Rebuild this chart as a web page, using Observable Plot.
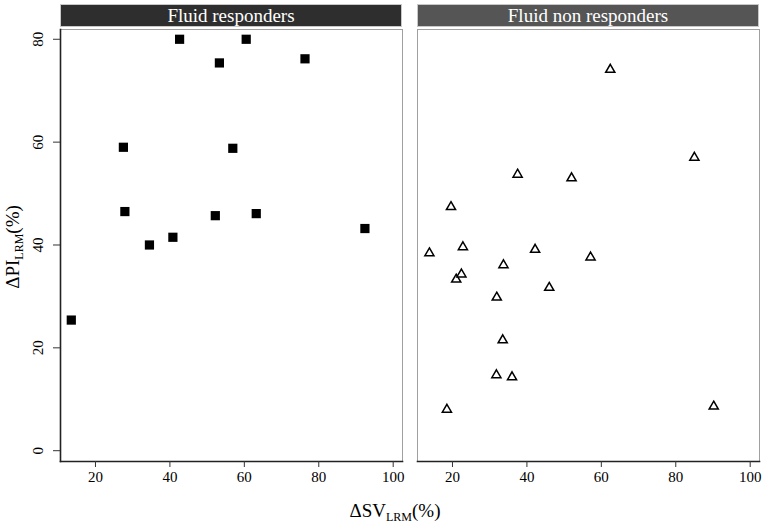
<!DOCTYPE html>
<html>
<head>
<meta charset="utf-8">
<script src="https://cdn.jsdelivr.net/npm/d3@7"></script>
<script src="https://cdn.jsdelivr.net/npm/@observablehq/plot@0.6"></script>
<style>
  html, body { margin: 0; padding: 0; background: #fff; }
  #wrap { position: relative; width: 765px; height: 526px; overflow: hidden; font-family: "Liberation Serif", "DejaVu Serif", serif; }
  .strip { position: absolute; top: 4px; height: 23px; box-sizing: border-box; border: 1px solid #c8c8c8; color: #fff; font-size: 19px; line-height: 21px; text-align: center; }
  .panel { position: absolute; top: 0; }
  #ylab { position: absolute; left: 13px; top: 247px; transform: translate(-50%, -50%) rotate(-90deg); white-space: nowrap; font-size: 19px; line-height: 20px; }
  #xlab { position: absolute; left: 395px; top: 511px; transform: translate(-50%, -50%); white-space: nowrap; font-size: 19px; line-height: 20px; }
  sub { font-size: 12px; vertical-align: -4px; line-height: 0; }
  svg text { font-family: "Liberation Serif", "DejaVu Serif", serif; }
</style>
</head>
<body>
<div id="wrap">
  <div class="strip" style="left:60px;width:342px;background:#2e2e2e;">Fluid responders</div>
  <div class="strip" style="left:417px;width:342px;background:#555555;">Fluid non responders</div>
  <div id="left" class="panel" style="left:0px;"></div>
  <div id="right" class="panel" style="left:409px;"></div>
  <div id="ylab">ΔPI<sub>LRM</sub>(%)</div>
  <div id="xlab">ΔSV<sub>LRM</sub>(%)</div>
</div>
<script>
// Fluid responders (filled squares)
const respX = [42.6, 60.5, 53.3, 76.3, 27.5, 56.9, 27.9, 52.2, 63.2, 92.4, 34.5, 40.8, 13.5];
const respY = [80.0, 80.0, 75.4, 76.2, 59.0, 58.8, 46.5, 45.7, 46.1, 43.2, 40.0, 41.5, 25.4];
// Fluid non responders (open triangles)
const nonX = [62.4, 85.0, 37.5, 52.0, 19.6, 13.8, 22.8, 42.2, 57.1, 33.7, 21.0, 22.4, 46.0, 31.9, 33.5, 31.8, 36.0, 18.5, 90.2];
const nonY = [74.1, 57.0, 53.7, 53.0, 47.4, 38.4, 39.6, 39.1, 37.6, 36.1, 33.3, 34.3, 31.7, 29.8, 21.5, 14.7, 14.3, 8.0, 8.6];
const xTicks = [20, 40, 60, 80, 100];
const yTicks = [0, 20, 40, 60, 80];

const resp = respX.map((x, i) => ({x, y: respY[i]}));
const non = nonX.map((x, i) => ({x, y: nonY[i]}));

const font = "Liberation Serif";
const common = {
  height: 500,
  marginTop: 29,
  marginBottom: 39,
  x: {domain: [10.6, 102.5]},
  y: {domain: [-2.1, 81.9]},
  style: "font-family: 'Liberation Serif', serif; font-size: 15px; color: #000; background: transparent; overflow: visible;"
};

const xAxis = () => Plot.axisX({ticks: xTicks, tickSize: 6, tickPadding: 4, label: null, fontSize: 15, fontFamily: font, stroke: "#333", fill: "#000"});

const leftPlot = Plot.plot({
  ...common,
  width: 410,
  marginLeft: 60,
  marginRight: 8,
  marks: [
    Plot.frame({stroke: "#a0a0a0", strokeWidth: 1}),
    Plot.frame({anchor: "left", stroke: "#222", strokeWidth: 1.6}),
    Plot.frame({anchor: "bottom", stroke: "#222", strokeWidth: 1.6}),
    xAxis(),
    Plot.axisY({ticks: yTicks, tickSize: 7, tickFormat: () => "", label: null, stroke: "#333"}),
    Plot.text(yTicks, {y: d => d, text: d => String(d), frameAnchor: "left", dx: -22, rotate: -90, textAnchor: "middle", lineAnchor: "middle", fontSize: 15, fontFamily: font, fill: "#000"}),
    Plot.dot(resp, {x: "x", y: "y", symbol: "square", r: 5.2, fill: "#000", stroke: "none"})
  ]
});

const rightPlot = Plot.plot({
  ...common,
  y: {domain: [-2.1, 81.9], axis: null},
  width: 356,
  marginLeft: 8,
  marginRight: 6,
  marks: [
    Plot.frame({stroke: "#a0a0a0", strokeWidth: 1}),
    Plot.frame({anchor: "bottom", stroke: "#222", strokeWidth: 1.6}),
    xAxis(),
    Plot.dot(non, {x: "x", y: "y", symbol: "triangle", r: 3.4, fill: "#fff", stroke: "#000", strokeWidth: 1.5})
  ]
});

document.getElementById("left").appendChild(leftPlot);
document.getElementById("right").appendChild(rightPlot);
</script>
</body>
</html>
